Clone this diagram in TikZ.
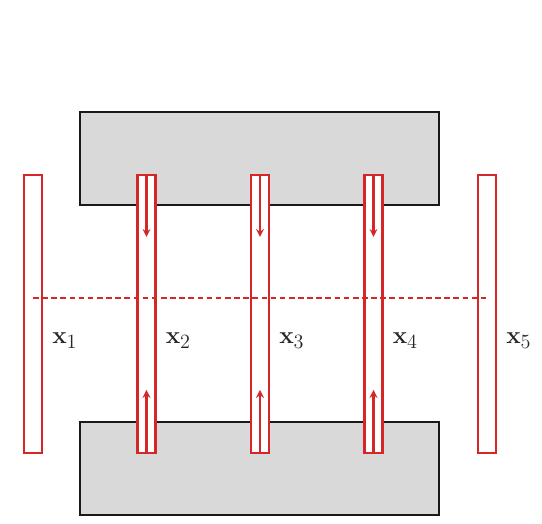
\documentclass[tikz,border=0pt]{standalone}
\usetikzlibrary{positioning}
\definecolor{stripred}{RGB}{214,39,40}
\definecolor{plategray}{RGB}{217,217,217}
\tikzset{
  plate/.style={fill=plategray, draw=black!90, line width=2.1pt},
  strip/.style={draw=stripred, fill=white, line width=1.9pt, inner sep=0pt,
    minimum width=0.45cm, minimum height=6.95cm},
  flow/.style={->, stripred, line width=1.5pt},
  xlabel/.style={anchor=base west, inner sep=0pt, font=\fontsize{19}{22}\selectfont, text=black!85}
}
\begin{document}
\begin{tikzpicture}[x=0.025cm, y=0.025cm, >=stealth]
  \useasboundingbox (0,0) rectangle (542,524);
  % Hai tam xam
  \draw[plate] (80,319) rectangle (439,412);
  \draw[plate] (80,9) rectangle (439,102);

  % Cac dai do
  \foreach \i in {1,...,5} {
    \pgfmathsetmacro{\xc}{33 + (\i-1)*113.5}
    \node[strip] (s\i) at (\xc, 210) {};
    \node[xlabel] (lab\i) at (\xc+19, 180) {$\mathbf{x}_{\i}$};
  }

  % Mui ten ben trong
  \foreach \i in {2,3,4} {
    \pgfmathsetmacro{\xc}{33 + (\i-1)*113.5}
    \coordinate (top\i) at (\xc, 287);
    \coordinate (bot\i) at (\xc, 134);
    \draw[flow] (s\i.north) -- (top\i);
    \draw[flow] (s\i.south) -- (bot\i);
  }

  % Duong net dut
  \coordinate (d1) at (33, 226);
  \coordinate (d5) at (487, 226);
  \draw[stripred, line width=1.4pt, dash pattern=on 4pt off 2.5pt] (d1) -- (d5);
\end{tikzpicture}
\end{document}
